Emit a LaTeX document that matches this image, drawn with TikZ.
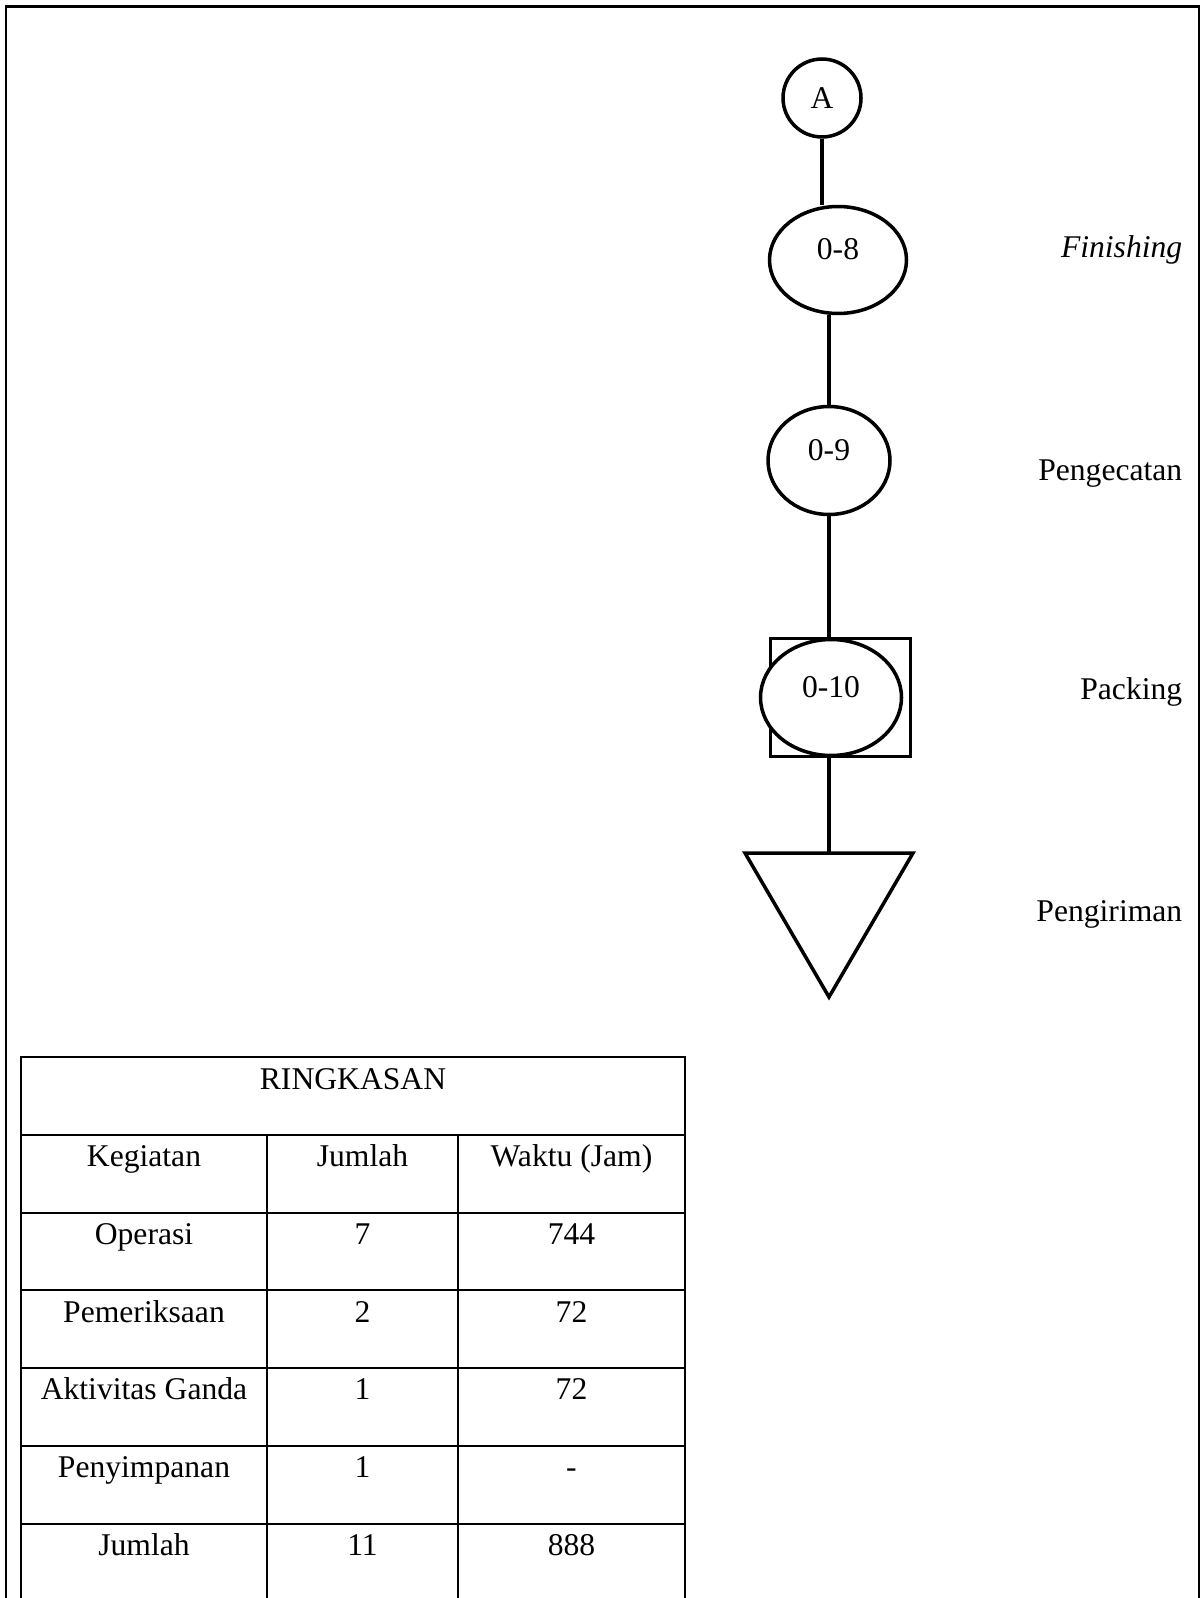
\documentclass[tikz,border=0pt]{standalone}
\usepackage{fontspec}
\setmainfont{Liberation Serif}
\usetikzlibrary{shapes.geometric, calc}
\tikzset{
  every picture/.style={font=\fontsize{18}{22}\selectfont},
  op/.style={draw, ellipse, inner sep=0pt, text height=1ex, text depth=1ex},
  lbl/.style={anchor=base east, inner sep=0pt},
  cell/.style={anchor=base},
  grid/.style={line width=1.1pt},
}

\begin{document}
\begin{tikzpicture}[x=0.02cm, y=-0.02cm, line width=2pt]
  \useasboundingbox (0,0) rectangle (1200,1598);
  % page frame
  \draw[line width=1.3pt] (6,1598) -- (6,6.5) -- (1199,6.5) -- (1199,1598);
  % process chart
  \node[draw, circle, minimum size=1.56cm, inner sep=0pt] (a) at (822,98) {A};
  \node[op, minimum width=2.74cm, minimum height=2.14cm] (e8) at (838,260) {0-8};
  \node[op, minimum width=2.44cm, minimum height=2.16cm] (e9) at (829,460.5) {0-9};
  \node[draw, rectangle, minimum width=2.8cm, minimum height=2.36cm] (box) at (840.5,697.5) {};
  \node[op, fill=white, minimum width=2.82cm, minimum height=2.32cm] (e10) at (831,697.5) {0-10};
  \coordinate (tri) at (829,853);
  \draw (745,853) -- (913,853) -- (829,997) -- cycle;
  \draw (a.south) -- (a.south |- e8.north);
  \draw (e9.north |- e8.south) -- (e9.north);
  \draw (e9.south) -- (e9.south |- box.north);
  \draw (box.south -| tri) -- (tri);
  % step names
  \node[lbl] (l8) at (1184,258) {\textit{Finishing}};
  \node[lbl] (l9) at (1184,480) {Pengecatan};
  \node[lbl] (l10) at (1184,699) {Packing};
  \node[lbl] (lkirim) at (1184,921) {Pengiriman};
  % summary table
  \draw[grid] (21,1598) -- (21,1057) -- (685,1057) -- (685,1598);
  \foreach \y in {1135,1213,1290,1368,1446,1524} \draw[grid] (21,\y) -- (685,\y);
  \foreach \x in {267,458} \draw[grid] (\x,1135) -- (\x,1598);
  \node[cell] (title) at (353,1089) {RINGKASAN};
  \foreach \k/\p/\q/\r in {0/Kegiatan/Jumlah/Waktu (Jam), 1/Operasi/7/744, 2/Pemeriksaan/2/72,
      3/Aktivitas Ganda/1/72, 4/Penyimpanan/1/-, 5/Jumlah/11/888} {
    \node[cell] (keg\k) at (144,{1166.5+77.8*\k}) {\p};
    \node[cell] (jml\k) at (362.5,{1166.5+77.8*\k}) {\q};
    \node[cell] (wkt\k) at (571.5,{1166.5+77.8*\k}) {\r};
  }
\end{tikzpicture}
\end{document}
